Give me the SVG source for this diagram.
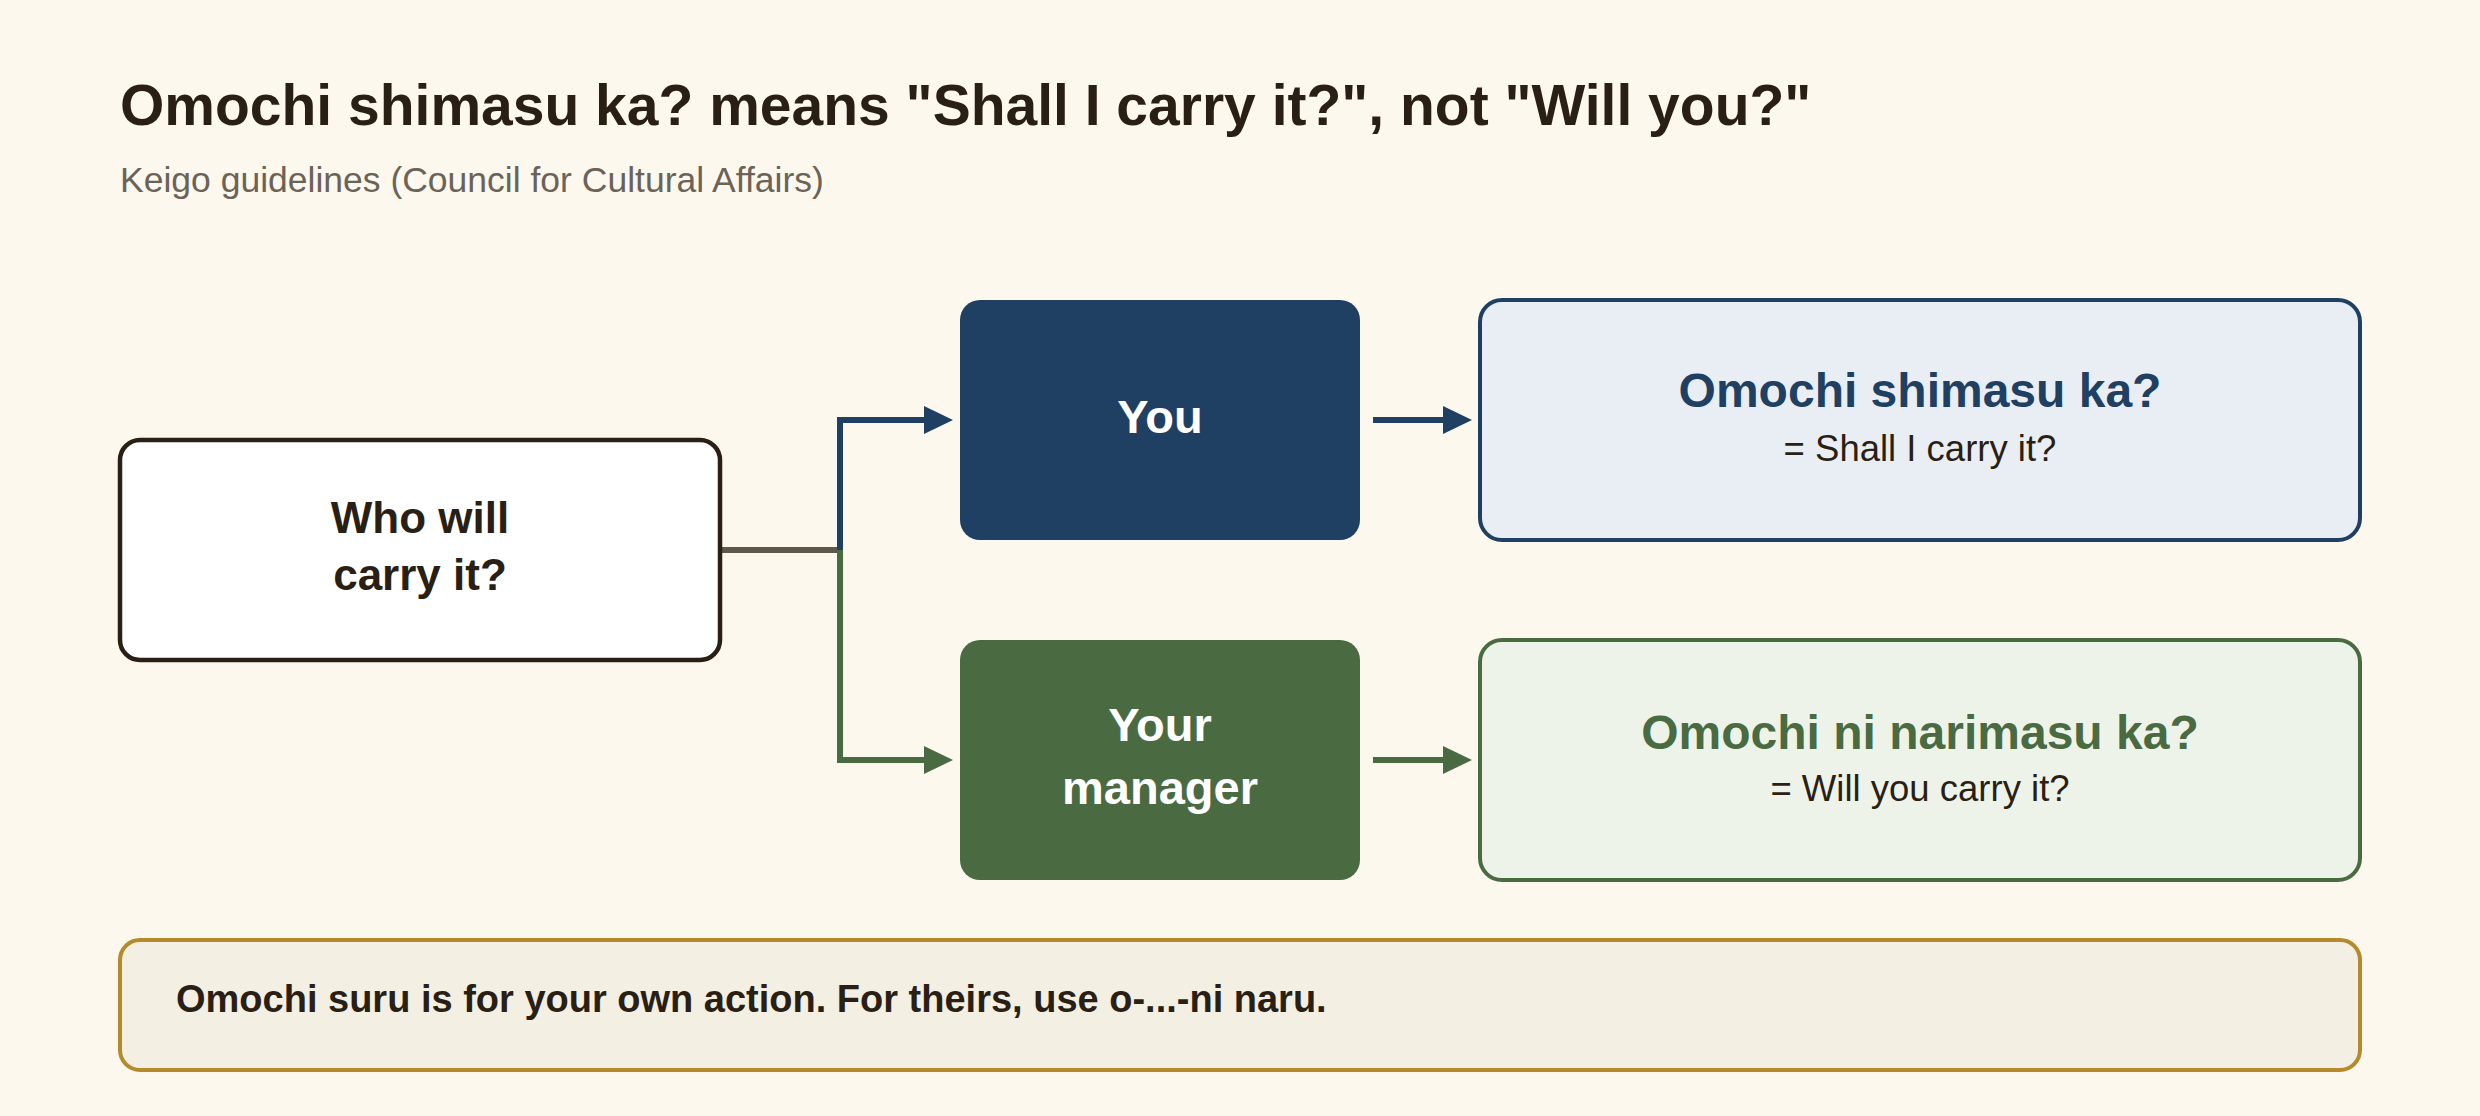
<svg xmlns="http://www.w3.org/2000/svg" width="2480" height="1116" viewBox="0 0 2480 1116">
  <style>
    text { font-family: "Liberation Sans", Arial, sans-serif; }
    .title { font-size: 57px; font-weight: bold; fill: #2a1f14; }
    .subtitle { font-size: 35.5px; fill: #6b6357; }
    .q { font-size: 44px; font-weight: bold; fill: #2a1f14; text-anchor: middle; }
    .who { font-size: 47px; font-weight: bold; fill: #ffffff; text-anchor: middle; }
    .head { font-size: 48px; font-weight: bold; text-anchor: middle; }
    .sub { font-size: 36.5px; fill: #2a1f14; text-anchor: middle; }
    .note { font-size: 38px; font-weight: bold; fill: #2a1f14; }
    .blue { fill: #1f4062; }
    .green { fill: #4a6b42; }
    .conn { fill: none; stroke-width: 6; }
  </style>
  <defs>
    <marker id="arrowBlue" markerUnits="userSpaceOnUse" viewBox="0 0 29 28" refX="0" refY="14" markerWidth="29" markerHeight="28" orient="auto">
      <path d="M0,0 L29,14 L0,28 Z" fill="#1f4062"/>
    </marker>
    <marker id="arrowGreen" markerUnits="userSpaceOnUse" viewBox="0 0 29 28" refX="0" refY="14" markerWidth="29" markerHeight="28" orient="auto">
      <path d="M0,0 L29,14 L0,28 Z" fill="#4a6b42"/>
    </marker>
  </defs>
  <rect x="0" y="0" width="2480" height="1116" fill="#fcf8ee"/>

  <g id="header">
    <text class="title" x="120" y="125">Omochi shimasu ka? means "Shall I carry it?", not "Will you?"</text>
    <text class="subtitle" x="120" y="192">Keigo guidelines (Council for Cultural Affairs)</text>
  </g>

  <g id="connectors">
    <path class="conn" d="M720,550 H840" stroke="#5e574b"/>
    <path class="conn" d="M840,550 V420 H924" stroke="#1f4062" marker-end="url(#arrowBlue)"/>
    <path class="conn" d="M840,550 V760 H924" stroke="#4a6b42" marker-end="url(#arrowGreen)"/>
    <path class="conn" d="M1373,420 H1443" stroke="#1f4062" marker-end="url(#arrowBlue)"/>
    <path class="conn" d="M1373,760 H1443" stroke="#4a6b42" marker-end="url(#arrowGreen)"/>
  </g>

  <g id="node-question">
    <rect x="120" y="440" width="600" height="220" rx="20" fill="#ffffff" stroke="#2a1f14" stroke-width="4.5"/>
    <text class="q" x="420" y="533">Who will</text>
    <text class="q" x="420" y="590">carry it?</text>
  </g>

  <g id="node-you">
    <rect x="960" y="300" width="400" height="240" rx="20" fill="#1f4062"/>
    <text class="who" x="1160" y="433">You</text>
  </g>

  <g id="node-manager">
    <rect x="960" y="640" width="400" height="240" rx="20" fill="#4a6b42"/>
    <text class="who" x="1160" y="741">Your</text>
    <text class="who" x="1160" y="804">manager</text>
  </g>

  <g id="node-shimasu">
    <rect x="1480" y="300" width="880" height="240" rx="22" fill="#e9eef5" stroke="#1f4062" stroke-width="4"/>
    <text class="head blue" x="1920" y="407">Omochi shimasu ka?</text>
    <text class="sub" x="1920" y="461">= Shall I carry it?</text>
  </g>

  <g id="node-narimasu">
    <rect x="1480" y="640" width="880" height="240" rx="22" fill="#eef3ea" stroke="#4a6b42" stroke-width="4"/>
    <text class="head green" x="1920" y="749">Omochi ni narimasu ka?</text>
    <text class="sub" x="1920" y="801">= Will you carry it?</text>
  </g>

  <g id="note">
    <rect x="120" y="940" width="2240" height="130" rx="20" fill="#f3efe3" stroke="#b58a2c" stroke-width="4"/>
    <text class="note" x="176" y="1012">Omochi suru is for your own action. For theirs, use o-...-ni naru.</text>
  </g>
</svg>
